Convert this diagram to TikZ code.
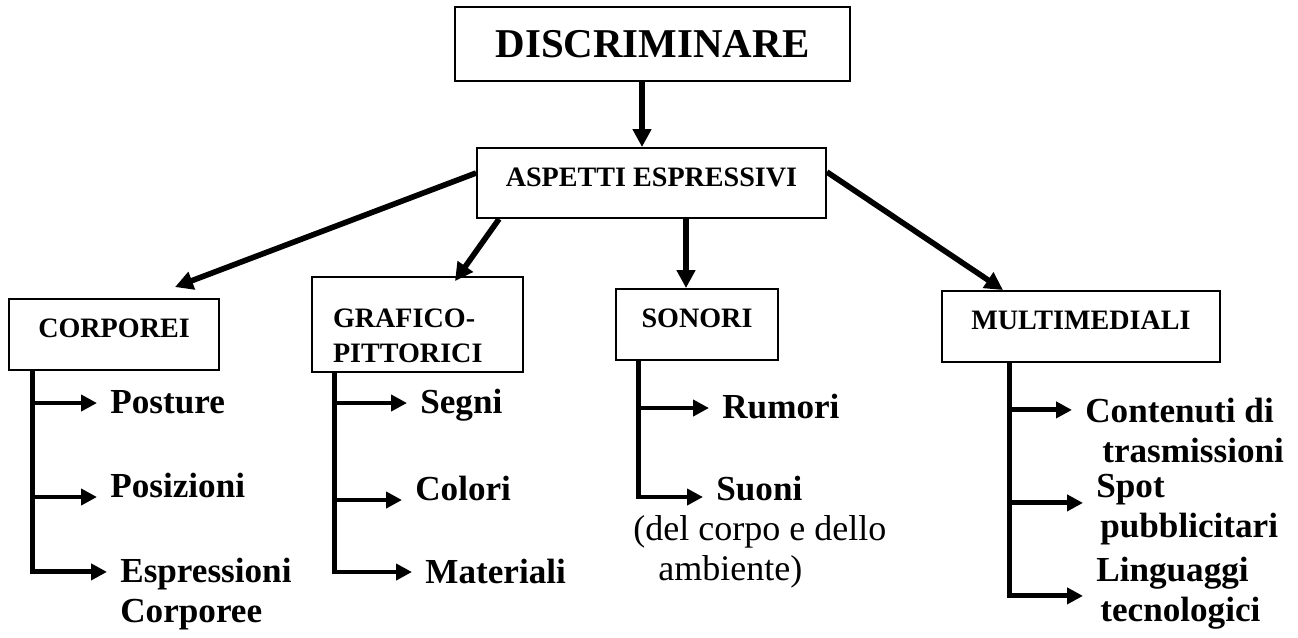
\documentclass[tikz,border=0pt]{standalone}
\usepackage{fontspec}
\setmainfont{Liberation Serif}
\usepackage{tikz}
\usetikzlibrary{arrows.meta}

\tikzset{
	box/.style={draw=black, line width=1.1pt, inner sep=0pt, text depth=0.24cm, font=\fontsize{16}{20}\selectfont\bfseries},
	leaf/.style={inner sep=0pt, anchor=base west, align=left, font=\fontsize{20}{23}\selectfont\bfseries},
	main/.style={line width=3.2pt, -{Triangle[length=0.36cm, width=0.36cm]}},
	branch/.style={line width=2.8pt, shorten >=0.26cm, -{Triangle[length=0.32cm, width=0.32cm]}},
}

\begin{document}
\begin{tikzpicture}[x=0.02cm, y=-0.02cm]
	\useasboundingbox (0,0) rectangle (1298,637);

	\node[box, minimum width=7.9cm, minimum height=1.48cm, text depth=0pt, font=\fontsize{23.3}{28}\selectfont\bfseries] (D) at (652.5,44) {DISCRIMINARE};
	\node[box, minimum width=6.98cm, minimum height=1.4cm] (A) at (651.5,183) {ASPETTI ESPRESSIVI};
	\node[box, minimum width=4.2cm, minimum height=1.42cm] (C) at (114,334.5) {CORPOREI};
	\node[box, text width=3.38cm, inner xsep=0.42cm, align=left, minimum height=1.9cm] (G) at (417.5,324.5) {GRAFICO-\\PITTORICI};
	\node[box, minimum width=3.24cm, minimum height=1.42cm] (S) at (697,324.5) {SONORI};
	\node[box, minimum width=5.56cm, minimum height=1.42cm] (M) at (1081,326.5) {MULTIMEDIALI};

	% two-line labels sit on the baseline of their last line
	\node[leaf] (C1) at (110,413) {Posture};
	\node[leaf] (C2) at (110,497) {Posizioni};
	\node[leaf] (C3) at (120,622.4) {Espressioni\\Corporee};
	\node[leaf] (G1) at (420,413) {Segni};
	\node[leaf] (G2) at (415,500) {Colori};
	\node[leaf] (G3) at (425,583) {Materiali};
	\node[leaf] (S1) at (722,418) {Rumori};
	\node[leaf] (S2) at (716,500) {Suoni};
	\node[leaf, font=\fontsize{20.5}{23}\selectfont] (S3) at (633,580.4) {(del corpo e dello\\\hspace*{0.5cm}ambiente)};
	\node[leaf] (M1) at (1085,462.4) {Contenuti di\\\hspace*{0.34cm}trasmissioni};
	\node[leaf] (M2) at (1096,537.4) {Spot\\\hspace*{0.08cm}pubblicitari};
	\node[leaf] (M3) at (1096,621.4) {Linguaggi\\\hspace*{0.08cm}tecnologici};

	\draw[main] ([xshift=-0.21cm]D.south) -- ([xshift=-0.19cm]A.north);
	\draw[main] ([yshift=0.2cm]A.west) -- ([xshift=1.22cm, yshift=0.22cm]C.north);
	\draw[main] ([xshift=0.46cm]A.south west) -- ([xshift=0.75cm, yshift=-0.1cm]G.north);
	\draw[main] ([xshift=0.69cm]A.south) -- ([xshift=-0.22cm]S.north);
	\draw[main] ([yshift=0.22cm]A.east) -- ([xshift=-1.56cm]M.north);

	\draw[branch] ([xshift=0.48cm]C.south west) |- ([yshift=0.2cm]C1.base west);
	\draw[branch] ([xshift=0.48cm]C.south west) |- (C2.base west);
	\draw[branch] ([xshift=0.48cm]C.south west) |- ([yshift=1.01cm]C3.base west);
	\draw[branch] ([xshift=0.46cm]G.south west) |- ([yshift=0.2cm]G1.base west);
	\draw[branch] ([xshift=0.46cm]G.south west) |- (G2.base west);
	\draw[branch] ([xshift=0.46cm]G.south west) |- ([yshift=0.22cm]G3.base west);
	\draw[branch] ([xshift=0.46cm]S.south west) |- ([yshift=0.2cm]S1.base west);
	\draw[branch] ([xshift=0.46cm]S.south west) |- ([yshift=0.06cm]S2.base west);
	\draw[branch] ([xshift=1.36cm]M.south west) |- ([yshift=1.05cm]M1.base west);
	\draw[branch] ([xshift=1.36cm]M.south west) |- ([yshift=0.69cm]M2.base west);
	\draw[branch] ([xshift=1.36cm]M.south west) |- ([yshift=0.51cm]M3.base west);
\end{tikzpicture}
\end{document}
